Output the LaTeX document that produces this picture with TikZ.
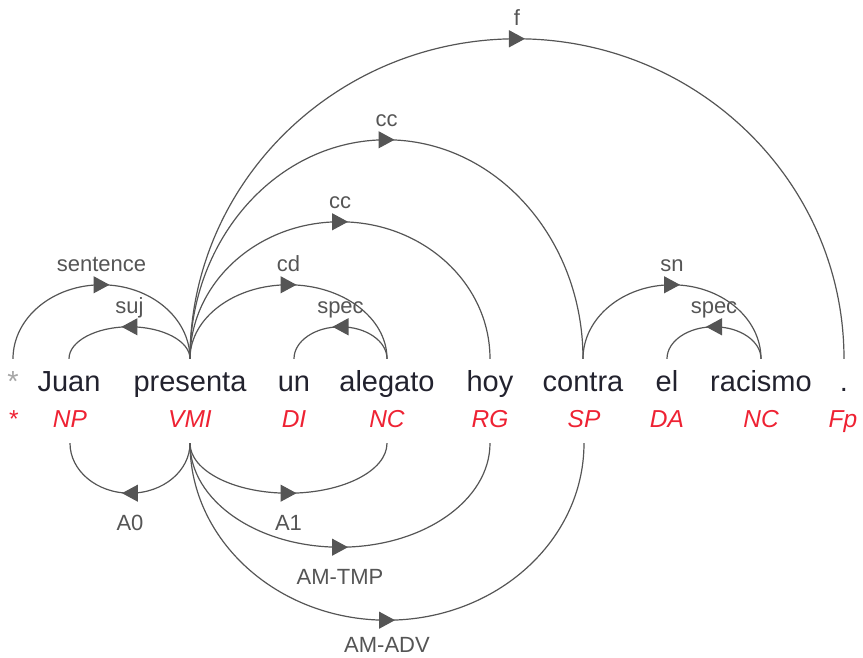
\documentclass[tikz,border=0pt]{standalone}
\usepackage{fontspec}
\setmainfont{Liberation Sans}
\usetikzlibrary{arrows.meta,decorations.markings,calc}
\definecolor{arcgray}{HTML}{555555}
\definecolor{tagred}{HTML}{EE2233}
\definecolor{wordink}{HTML}{22222E}

\begin{document}
\begin{tikzpicture}
  [x=1pt,y=1pt,
   word/.style={font=\fontsize{29}{34}\selectfont,text=wordink,anchor=base,inner ysep=0pt,text height=33pt},
   tag/.style={font=\fontsize{24.5}{30}\selectfont\itshape,text=tagred,anchor=base,inner ysep=0pt,text depth=15pt},
   lab/.style={font=\fontsize{22}{26}\selectfont,text=arcgray,anchor=base},
   dep/.style={draw=arcgray,color=arcgray,line width=1.2pt,postaction={decorate},
     decoration={markings,mark=at position 0.5 with {\arrow[xshift=8pt]{Triangle[length=16pt,width=17pt]}}}}]
  \useasboundingbox (0,0) rectangle (863,658);
  % words
  \node[word,text=gray!70] (root) at (13,266) {*};
  \node[word] (juan) at (69,266) {Juan};
  \node[word] (presenta) at (190,266) {presenta};
  \node[word] (un) at (294,266) {un};
  \node[word] (alegato) at (387,266) {alegato};
  \node[word] (hoy) at (490,266) {hoy};
  \node[word] (contra) at (583,266) {contra};
  \node[word] (el) at (667,266) {el};
  \node[word] (racismo) at (761,266) {racismo};
  \node[word] (dot) at (844,266) {.};
  % tags
  \node[tag,font=\fontsize{24.5}{30}\selectfont] (troot) at (14,230) {*};
  \node[tag] (tjuan) at (70,230) {NP};
  \node[tag] (tpresenta) at (190,230) {VMI};
  \node[tag] (tun) at (294,230) {DI};
  \node[tag] (talegato) at (387,230) {NC};
  \node[tag] (thoy) at (490,230) {RG};
  \node[tag] (tcontra) at (584,230) {SP};
  \node[tag] (tel) at (667,230) {DA};
  \node[tag] (tracismo) at (761,230) {NC};
  \node[tag] (tdot) at (843,230) {Fp};
  % syntactic arcs above
  \foreach \from/\to/\h/\lab [count=\i] in {root/presenta/74/sentence,presenta/juan/32/suj,
      presenta/alegato/74/cd,alegato/un/32/spec,presenta/hoy/137/cc,presenta/contra/219/cc,
      presenta/dot/320/f,contra/racismo/74/sn,racismo/el/32/spec}
  {
    \draw[dep] let \p1=(\from.north), \p2=(\to.north), \n1={(\x2-\x1)/2} in
      (\p1) arc[start angle=180,end angle=0,x radius=\n1,y radius=\h pt];
    \node[lab] (up\i) at ($(\from.north)!.5!(\to.north)+(0,\h+13)$) {\lab};
  }
  % semantic roles below
  \foreach \from/\to/\h/\gap/\lab [count=\i] in {tpresenta/tjuan/50/37/A0,tpresenta/talegato/50/37/A1,
      tpresenta/thoy/104/37/AM-TMP,tpresenta/tcontra/177/32/AM-ADV}
  {
    \draw[dep] let \p1=(\from.south), \p2=(\to.south), \n1={(\x2-\x1)/2} in
      (\p1) arc[start angle=180,end angle=0,x radius=\n1,y radius=-\h pt];
    \node[lab] (down\i) at ($(\from.south)!.5!(\to.south)-(0,\h+\gap)$) {\lab};
  }
\end{tikzpicture}
\end{document}
